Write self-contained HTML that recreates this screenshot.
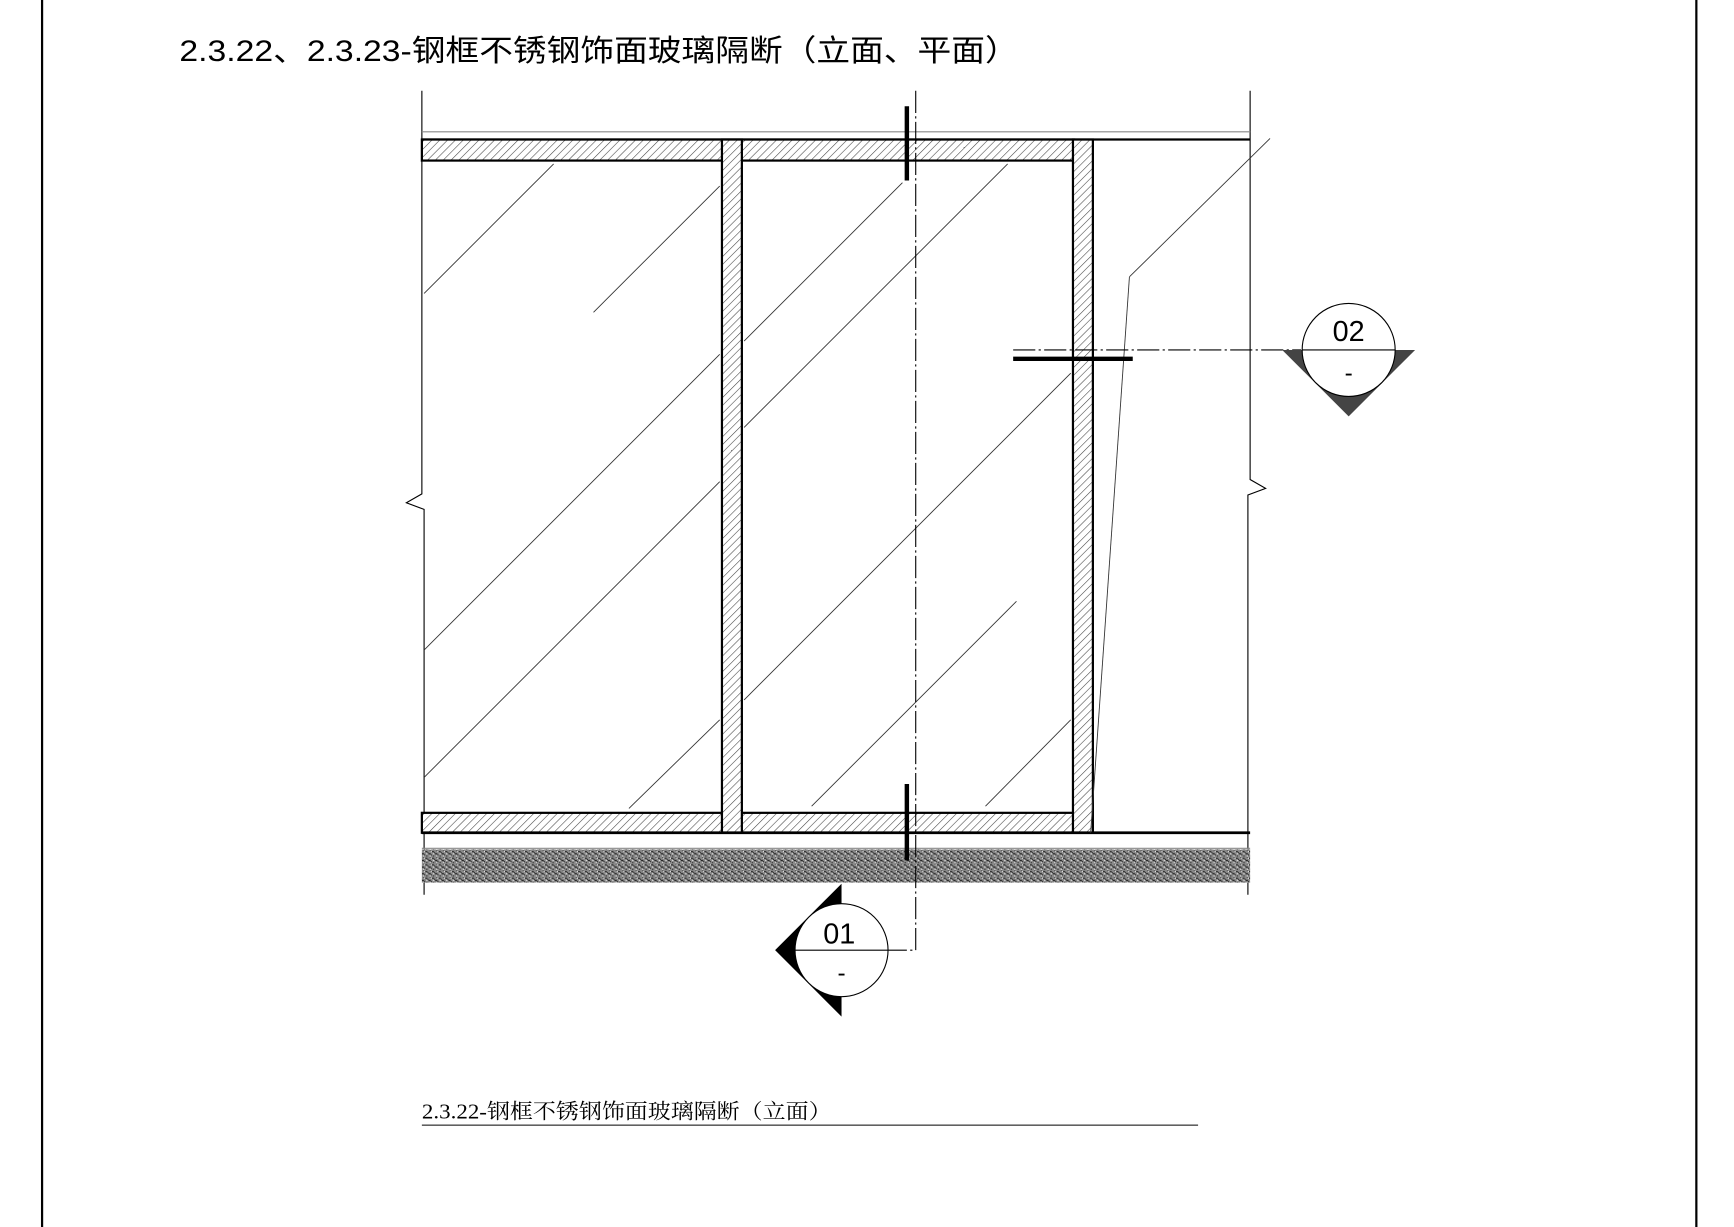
<!DOCTYPE html>
<html><head><meta charset="utf-8"><style>html,body{margin:0;padding:0;background:#fff;}svg{display:block}</style></head>
<body>
<svg width="1734" height="1227" viewBox="0 0 1566 1108" preserveAspectRatio="none" xmlns="http://www.w3.org/2000/svg">
<defs>
<pattern id="h" width="5" height="5" patternUnits="userSpaceOnUse" patternTransform="rotate(45)">
<rect width="5" height="5" fill="#fff"/><line x1="0" y1="0" x2="0" y2="5" stroke="#444" stroke-width="1"/>
</pattern>
<pattern id="s" width="6" height="6" patternUnits="userSpaceOnUse">
<rect width="6" height="6" fill="#8a8a8a"/><path d="M0 1h2M3 3h2M1 5h1M4 0h1M2 2h1M5 4h1" stroke="#222" stroke-width="1"/><path d="M1 3h1M4 5h1M5 1h1" stroke="#eee" stroke-width="1"/>
</pattern>
</defs>
<line x1="38" y1="0" x2="38" y2="1108" stroke="#000" stroke-width="2"/>
<line x1="1532" y1="0" x2="1532" y2="1108" stroke="#000" stroke-width="2"/>
<text x="162" y="55" textLength="758" lengthAdjust="spacingAndGlyphs" font-family="Liberation Sans, Noto Sans CJK SC, sans-serif" font-size="27" fill="#000">2.3.22、2.3.23-钢框不锈钢饰面玻璃隔断（立面、平面）</text>

<path d="M381 82V446l-14 8 16 6V808" fill="none" stroke="#000" stroke-width="1"/>
<path d="M1129 82V433l14 8-16 6V808" fill="none" stroke="#000" stroke-width="1"/>
<line x1="381" y1="119" x2="1129" y2="119" stroke="#888" stroke-width="1"/>
<line x1="381" y1="126" x2="1129" y2="126" stroke="#000" stroke-width="2"/>

<rect x="381" y="126" width="589" height="19" fill="url(#h)" stroke="#000" stroke-width="2"/>
<rect x="381" y="734" width="589" height="18" fill="url(#h)" stroke="#000" stroke-width="2"/>
<rect x="652" y="126" width="18" height="626" fill="url(#h)" stroke="#000" stroke-width="2"/>
<rect x="969" y="126" width="18" height="626" fill="url(#h)" stroke="#000" stroke-width="2"/>
<line x1="381" y1="752" x2="1129" y2="752" stroke="#000" stroke-width="2.5"/>
<line x1="381" y1="766" x2="1129" y2="766" stroke="#888" stroke-width="1"/>
<rect x="381" y="767" width="748" height="30" fill="url(#s)"/>

<g stroke="#333" stroke-width="0.8">
<line x1="500" y1="148" x2="383" y2="265"/>
<line x1="650" y1="168" x2="536" y2="282"/>
<line x1="650" y1="320" x2="383" y2="587"/>
<line x1="650" y1="435" x2="383" y2="702"/>
<line x1="650" y1="650" x2="568" y2="730"/>
<line x1="815" y1="165" x2="672" y2="308"/>
<line x1="910" y1="148" x2="672" y2="386"/>
<line x1="967" y1="337" x2="672" y2="632"/>
<line x1="918" y1="543" x2="733" y2="728"/>
<line x1="967" y1="650" x2="890" y2="728"/>
<line x1="1147" y1="125" x2="1020" y2="250"/>
<line x1="1020" y1="250" x2="985" y2="752"/>
</g>

<path d="M827 82V858H800" fill="none" stroke="#000" stroke-width="1" stroke-dasharray="20 3 2 3"/>
<line x1="915" y1="316" x2="1175" y2="316" stroke="#000" stroke-width="1" stroke-dasharray="20 3 2 3"/>
<line x1="819" y1="96" x2="819" y2="163" stroke="#000" stroke-width="4"/>
<line x1="819" y1="708" x2="819" y2="777" stroke="#000" stroke-width="4"/>
<line x1="915" y1="324" x2="1023" y2="324" stroke="#000" stroke-width="4"/>

<polygon points="1158,316 1278,316 1218,376" fill="#444"/>
<circle cx="1218" cy="316" r="42" fill="#fff" stroke="#000" stroke-width="1"/>
<line x1="1176" y1="316" x2="1260" y2="316" stroke="#000" stroke-width="1"/>
<text x="1218" y="308" text-anchor="middle" font-family="Liberation Sans, sans-serif" font-size="26">02</text>
<text x="1218" y="344" text-anchor="middle" font-family="Liberation Sans, sans-serif" font-size="22">-</text>

<polygon points="760,798 700,858 760,918" fill="#000"/>
<circle cx="760" cy="858" r="42" fill="#fff" stroke="#000" stroke-width="1"/>
<line x1="718" y1="858" x2="802" y2="858" stroke="#000" stroke-width="1"/>
<text x="758" y="852" text-anchor="middle" font-family="Liberation Sans, sans-serif" font-size="26">01</text>
<text x="760" y="886" text-anchor="middle" font-family="Liberation Sans, sans-serif" font-size="22">-</text>

<text x="381" y="1010" textLength="370" lengthAdjust="spacingAndGlyphs" font-family="Liberation Serif, Noto Serif CJK SC, serif" font-size="19" fill="#000">2.3.22-钢框不锈钢饰面玻璃隔断（立面）</text>
<line x1="381" y1="1016" x2="1082" y2="1016" stroke="#000" stroke-width="1"/>
</svg>
</body></html>
